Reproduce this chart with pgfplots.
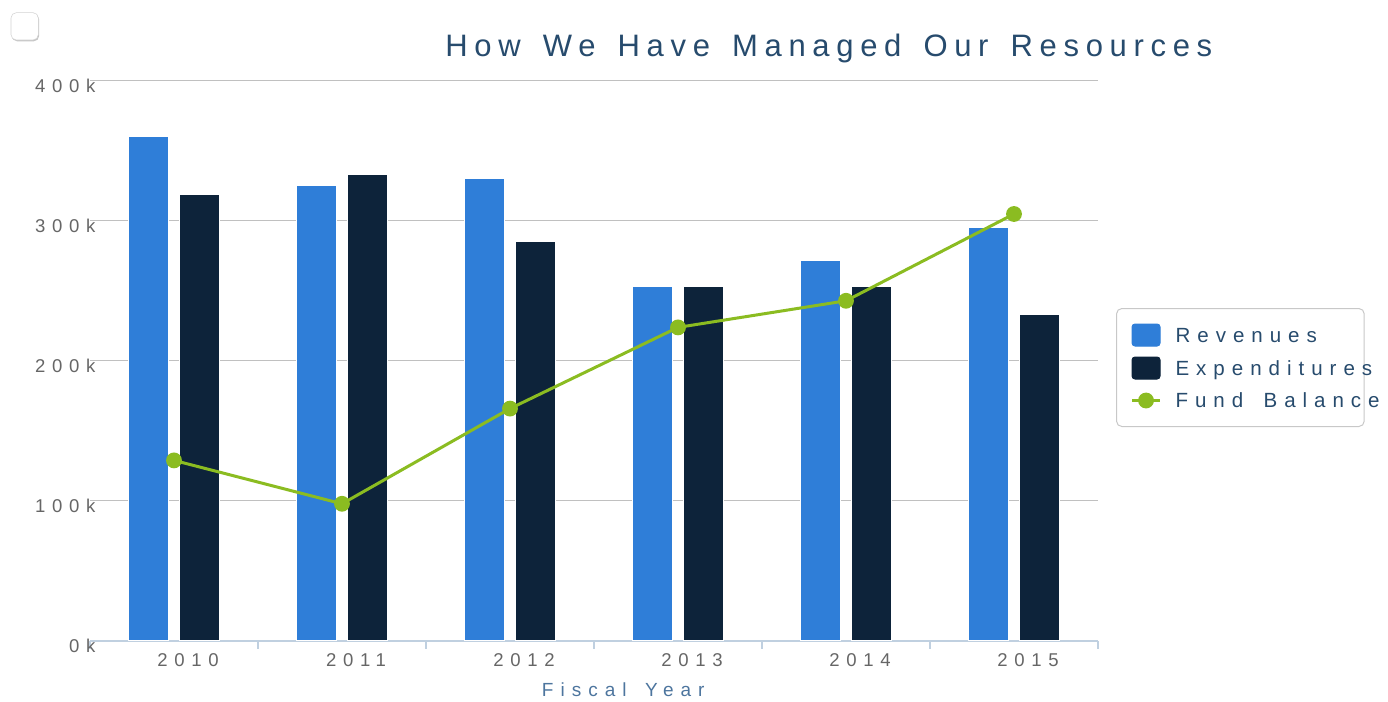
\documentclass[border=0pt]{standalone}
\usepackage{fontspec}
\setmainfont{Liberation Sans}
\newfontfamily\titlef[LetterSpace=21.5, WordSpace=1.45]{Liberation Sans}
\newfontfamily\tickf[LetterSpace=36]{Liberation Sans}
\newfontfamily\axisf[LetterSpace=37, WordSpace=1.5]{Liberation Sans}
\newfontfamily\legf[LetterSpace=34, WordSpace=1.6]{Liberation Sans}
\usepackage{pgfplots}
\pgfplotsset{compat=1.18}
\usetikzlibrary{shadows}

\definecolor{rev}{HTML}{2F7ED8}
\definecolor{exps}{HTML}{0D233A}
\definecolor{fund}{HTML}{8BBC21}
\definecolor{titlec}{HTML}{274B6D}
\definecolor{axtitle}{HTML}{4D759E}
\definecolor{tickc}{HTML}{666666}
\definecolor{gridc}{HTML}{C0C0C0}
\definecolor{axline}{HTML}{C0D0E0}
\definecolor{legborder}{HTML}{C8C8C8}

% 1px of the reference = 0.75pt
\begin{document}
\begin{tikzpicture}
\begin{axis}[
    scale only axis,
    width=756pt, height=420pt,
    xmin=-0.5, xmax=5.5,
    ymin=0, ymax=400,
    axis x line=bottom,
    axis y line=left,
    x axis line style={draw=axline, line width=1.5pt, -},
    y axis line style={draw=none},
    xtick={0,...,5},
    xticklabels={2010,2011,2012,2013,2014,2015},
    major x tick style={draw=none},
    minor xtick={-0.5,0.5,...,5.5},
    minor x tick style={draw=axline, line width=1.5pt},
    minor tick length=6pt,
    tick align=outside,
    ytick={0,100,200,300,400},
    yticklabels={0k,100k,200k,300k,400k},
    ytick style={draw=none},
    ymajorgrids,
    grid style={draw=gridc, line width=0.75pt},
    xticklabel style={font=\tickf\fontsize{13.9pt}{16pt}\selectfont, text=tickc,
        anchor=north, inner sep=0pt, xshift=10.5pt, yshift=-5pt},
    yticklabel style={font=\tickf\fontsize{13.9pt}{16pt}\selectfont, text=tickc,
        anchor=east, inner sep=0pt, xshift=8.5pt, yshift=-3.5pt},
    title={How We Have Managed Our Resources},
    title style={font=\titlef\fontsize{23.25pt}{26pt}\selectfont, text=titlec,
        at={(axis description cs:0.733,1.044)}, anchor=center, inner sep=0pt},
    xlabel={Fiscal Year},
    xlabel style={font=\axisf\fontsize{14.25pt}{17pt}\selectfont, text=axtitle,
        at={(axis description cs:0.529,-0.0875)}, anchor=center, inner sep=0pt},
    legend style={
        at={(axis description cs:1.0179,0.5946)}, anchor=north west,
        draw=legborder, line width=0.75pt, rounded corners=4pt,
        inner xsep=10.5pt, inner ysep=11.25pt, row sep=7.5pt,
        font=\legf\fontsize{15.4pt}{18pt}\selectfont, text=titlec,
        nodes={inner sep=0pt},
        /tikz/every odd column/.append style={column sep=10.5pt},
    },
    legend cell align=left,
]
\addplot[ybar, bar width=30pt, bar shift=-19pt, fill=rev, draw=white, line width=0.75pt,
    legend image code/.code={\fill[rev, rounded corners=2.25pt] (0pt,-7.5pt) rectangle (21pt,9pt);}]
    coordinates {(0,360) (1,325) (2,330) (3,253) (4,272) (5,295)};
\addlegendentry{\makebox[131pt][l]{Revenues}}
\addplot[ybar, bar width=30pt, bar shift=19pt, fill=exps, draw=white, line width=0.75pt,
    legend image code/.code={\fill[exps, rounded corners=2.25pt] (0pt,-7.5pt) rectangle (21pt,9pt);}]
    coordinates {(0,319) (1,333) (2,285) (3,253) (4,253) (5,233)};
\addlegendentry{\makebox[131pt][l]{Expenditures}}
\addplot[sharp plot, color=fund, line width=2.25pt, mark=*, mark size=4.8pt,
    mark options={fill=fund, draw=fund},
    legend image code/.code={\draw[fund, line width=2.25pt] (0pt,0.75pt) -- (21pt,0.75pt);
        \fill[fund] (10.5pt,0.75pt) circle (4.8pt);
        \path[draw=none, fill=none] (0pt,-7.5pt) rectangle (21pt,9pt);}]
    coordinates {(0,129) (1,98) (2,166) (3,224) (4,243) (5,305)};
\addlegendentry{\makebox[131pt][l]{Fund Balance}}
\end{axis}
% checkbox in the top-left corner
\node[draw=gray!35, fill=white, rounded corners=4pt, minimum size=20.5pt, inner sep=0pt,
    drop shadow={shadow xshift=0.6pt, shadow yshift=-1pt, opacity=0.45}]
    at (-49pt,461pt) {};
\pgfresetboundingbox
\path[use as bounding box] (-67.5pt,-45.75pt) rectangle (973.5pt,480.75pt);
\end{tikzpicture}
\end{document}
